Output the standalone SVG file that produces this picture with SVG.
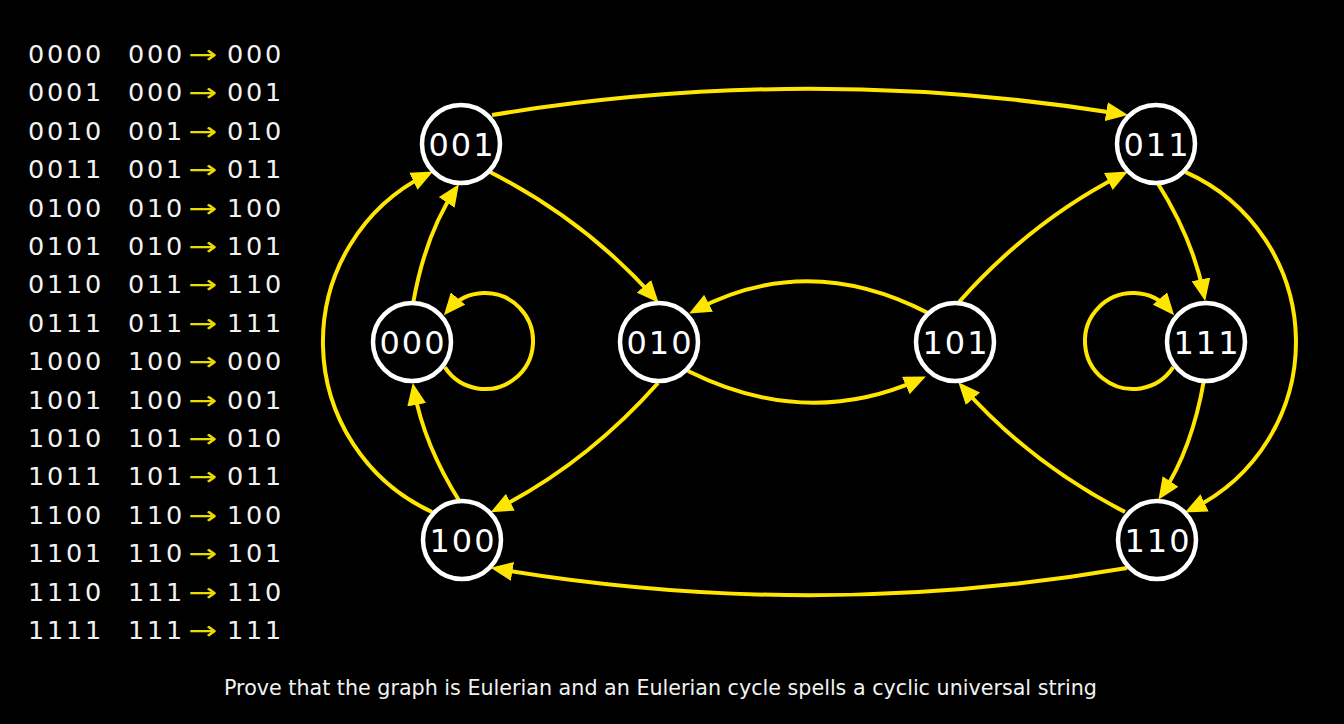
<svg xmlns="http://www.w3.org/2000/svg" width="1344" height="724" viewBox="0 0 1344 724">
<style>
.tb{font-family:"DejaVu Sans",Verdana,sans-serif;font-size:25.5px;fill:#f2f2f2;letter-spacing:2.8px}
.ar{font-family:"DejaVu Sans",sans-serif;font-size:25px;fill:#e8dc00}
.nd circle{fill:#000;stroke:#fff;stroke-width:4.5}
.nd text{font-family:"DejaVu Sans",Verdana,sans-serif;font-size:32px;fill:#fff;letter-spacing:2px;text-anchor:middle}
.e{fill:none;stroke:#ffe600;stroke-width:4;marker-end:url(#ah)}
.cap{font-family:"DejaVu Sans",Verdana,sans-serif;font-size:20.5px;fill:#f2f2f2}
</style>
<defs>
<marker id="ah" markerUnits="userSpaceOnUse" markerWidth="22" markerHeight="19" refX="15" refY="9.5" orient="auto">
<path d="M0,0 L22,9.5 L0,19 z" fill="#ffe600"/>
</marker>
</defs>
<rect x="0" y="0" width="1344" height="724" fill="#000"/>
<g id="table">
<text class="tb" x="28" y="63">0000</text><text class="tb" x="128" y="63">000</text><text class="ar" x="188" y="63" textLength="29" lengthAdjust="spacingAndGlyphs">→</text><text class="tb" x="227" y="63">000</text>
<text class="tb" x="28" y="101.4">0001</text><text class="tb" x="128" y="101.4">000</text><text class="ar" x="188" y="101.4" textLength="29" lengthAdjust="spacingAndGlyphs">→</text><text class="tb" x="227" y="101.4">001</text>
<text class="tb" x="28" y="139.8">0010</text><text class="tb" x="128" y="139.8">001</text><text class="ar" x="188" y="139.8" textLength="29" lengthAdjust="spacingAndGlyphs">→</text><text class="tb" x="227" y="139.8">010</text>
<text class="tb" x="28" y="178.2">0011</text><text class="tb" x="128" y="178.2">001</text><text class="ar" x="188" y="178.2" textLength="29" lengthAdjust="spacingAndGlyphs">→</text><text class="tb" x="227" y="178.2">011</text>
<text class="tb" x="28" y="216.6">0100</text><text class="tb" x="128" y="216.6">010</text><text class="ar" x="188" y="216.6" textLength="29" lengthAdjust="spacingAndGlyphs">→</text><text class="tb" x="227" y="216.6">100</text>
<text class="tb" x="28" y="255">0101</text><text class="tb" x="128" y="255">010</text><text class="ar" x="188" y="255" textLength="29" lengthAdjust="spacingAndGlyphs">→</text><text class="tb" x="227" y="255">101</text>
<text class="tb" x="28" y="293.4">0110</text><text class="tb" x="128" y="293.4">011</text><text class="ar" x="188" y="293.4" textLength="29" lengthAdjust="spacingAndGlyphs">→</text><text class="tb" x="227" y="293.4">110</text>
<text class="tb" x="28" y="331.8">0111</text><text class="tb" x="128" y="331.8">011</text><text class="ar" x="188" y="331.8" textLength="29" lengthAdjust="spacingAndGlyphs">→</text><text class="tb" x="227" y="331.8">111</text>
<text class="tb" x="28" y="370.2">1000</text><text class="tb" x="128" y="370.2">100</text><text class="ar" x="188" y="370.2" textLength="29" lengthAdjust="spacingAndGlyphs">→</text><text class="tb" x="227" y="370.2">000</text>
<text class="tb" x="28" y="408.6">1001</text><text class="tb" x="128" y="408.6">100</text><text class="ar" x="188" y="408.6" textLength="29" lengthAdjust="spacingAndGlyphs">→</text><text class="tb" x="227" y="408.6">001</text>
<text class="tb" x="28" y="447">1010</text><text class="tb" x="128" y="447">101</text><text class="ar" x="188" y="447" textLength="29" lengthAdjust="spacingAndGlyphs">→</text><text class="tb" x="227" y="447">010</text>
<text class="tb" x="28" y="485.4">1011</text><text class="tb" x="128" y="485.4">101</text><text class="ar" x="188" y="485.4" textLength="29" lengthAdjust="spacingAndGlyphs">→</text><text class="tb" x="227" y="485.4">011</text>
<text class="tb" x="28" y="523.8">1100</text><text class="tb" x="128" y="523.8">110</text><text class="ar" x="188" y="523.8" textLength="29" lengthAdjust="spacingAndGlyphs">→</text><text class="tb" x="227" y="523.8">100</text>
<text class="tb" x="28" y="562.2">1101</text><text class="tb" x="128" y="562.2">110</text><text class="ar" x="188" y="562.2" textLength="29" lengthAdjust="spacingAndGlyphs">→</text><text class="tb" x="227" y="562.2">101</text>
<text class="tb" x="28" y="600.6">1110</text><text class="tb" x="128" y="600.6">111</text><text class="ar" x="188" y="600.6" textLength="29" lengthAdjust="spacingAndGlyphs">→</text><text class="tb" x="227" y="600.6">110</text>
<text class="tb" x="28" y="639">1111</text><text class="tb" x="128" y="639">111</text><text class="ar" x="188" y="639" textLength="29" lengthAdjust="spacingAndGlyphs">→</text><text class="tb" x="227" y="639">111</text>
</g>
<g id="connectors">
<path class="e" d="M444.8,367.2 A48,48 0 1 0 448.4,310"/>
<path class="e" d="M1173.2,367.2 A48,48 0 1 1 1169.6,310"/>
<path class="e" d="M413,304 Q425,235 455,190"/>
<path class="e" d="M460,502 Q424,445 414,390"/>
<path class="e" d="M432,512 A187,187 0 0 1 426.8,174.5"/>
<path class="e" d="M1185.6,172.1 A186,186 0 0 1 1191.1,509.4"/>
<path class="e" d="M492,115 A1952,1952 0 0 1 1121.1,114"/>
<path class="e" d="M1127,568 A1880,1880 0 0 1 497.6,569"/>
<path class="e" d="M490,172 Q586,221 654,297.5"/>
<path class="e" d="M658,383 Q587,463 497,509"/>
<path class="e" d="M688,371 Q806,430 919.5,379.4"/>
<path class="e" d="M928,313 Q808,251 695.3,310.2"/>
<path class="e" d="M959,302 Q1031,221 1121.7,174.7"/>
<path class="e" d="M1125,512 Q1030,463 963,387.5"/>
<path class="e" d="M1157,182 Q1193,239 1203.8,294.1"/>
<path class="e" d="M1204,380 Q1192,449 1162.3,494"/>
</g>
<g id="n000" class="nd"><circle cx="412" cy="342" r="39"/><text x="413" y="353.5">000</text></g>
<g id="n001" class="nd"><circle cx="461" cy="144" r="39"/><text x="462" y="155.5">001</text></g>
<g id="n010" class="nd"><circle cx="659" cy="342" r="39"/><text x="660" y="353.5">010</text></g>
<g id="n011" class="nd"><circle cx="1156" cy="144" r="39"/><text x="1157" y="155.5">011</text></g>
<g id="n100" class="nd"><circle cx="462" cy="540" r="39"/><text x="463" y="551.5">100</text></g>
<g id="n101" class="nd"><circle cx="955" cy="342" r="39"/><text x="956" y="353.5">101</text></g>
<g id="n110" class="nd"><circle cx="1157" cy="540" r="39"/><text x="1158" y="551.5">110</text></g>
<g id="n111" class="nd"><circle cx="1206" cy="342" r="39"/><text x="1207" y="353.5">111</text></g>
<text class="cap" x="224" y="695" textLength="873" lengthAdjust="spacingAndGlyphs">Prove that the graph is Eulerian and an Eulerian cycle spells a cyclic universal string</text>
</svg>
